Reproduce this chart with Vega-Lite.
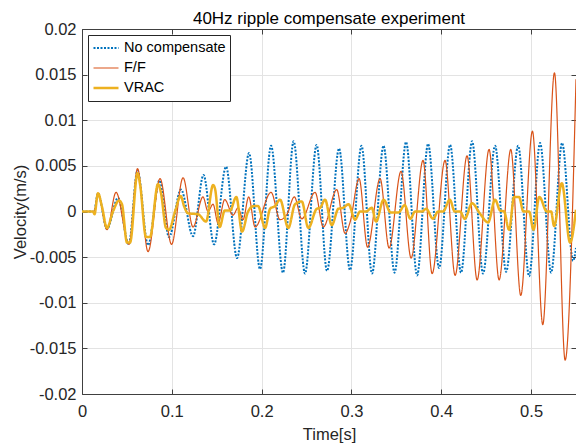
{
"$schema": "https://vega.github.io/schema/vega-lite/v6.json",
"width": 494, "height": 365,
"autosize": {"type": "none"},
"padding": {"left": 82, "top": 29, "right": 0, "bottom": 50},
"background": "white",
"title": {"text": "40Hz ripple compensate experiment", "fontSize": 17, "font": "Liberation Sans", "fontWeight": "normal", "color": "#000000", "baseline": "alphabetic", "offset": -20, "anchor": "middle", "frame": "group"},
"config": {
  "view": {"stroke": "#404040", "strokeWidth": 1},
  "font": "Liberation Sans",
  "axis": {"domainColor": "#404040", "tickColor": "#404040", "labelColor": "#262626", "titleColor": "#262626", "labelFont": "Liberation Sans", "titleFont": "Liberation Sans", "labelFontSize": 16.5, "titleFontSize": 16.5, "titleFontWeight": "normal", "gridColor": "#e3e3e3", "tickSize": -5, "labelFlush": false, "labelOverlap": false}
},
"datasets": {
"main": [
{"series":"No compensate","t":0,"v":0},{"series":"No compensate","t":0.0134,"v":0},{"series":"No compensate","t":0.0178,"v":0.002},{"series":"No compensate","t":0.0278,"v":-0.0019},{"series":"No compensate","t":0.0401,"v":0.0015},{"series":"No compensate","t":0.052,"v":-0.0036},{"series":"No compensate","t":0.0618,"v":0.0045},{"series":"No compensate","t":0.0735,"v":-0.0037},{"series":"No compensate","t":0.0863,"v":0.0034},{"series":"No compensate","t":0.0969,"v":-0.0028},{"series":"No compensate","t":0.1102,"v":0.0024},{"series":"No compensate","t":0.1236,"v":-0.0027},{"series":"No compensate","t":0.1353,"v":0.004},{"series":"No compensate","t":0.147,"v":-0.0036},{"series":"No compensate","t":0.1604,"v":0.0049},{"series":"No compensate","t":0.1726,"v":-0.0051},{"series":"No compensate","t":0.186,"v":0.0064},{"series":"No compensate","t":0.1982,"v":-0.0063},{"series":"No compensate","t":0.2105,"v":0.0072},{"series":"No compensate","t":0.2238,"v":-0.0067},{"series":"No compensate","t":0.2356,"v":0.0077},{"series":"No compensate","t":0.2483,"v":-0.0068},{"series":"No compensate","t":0.2612,"v":0.0073},{"series":"No compensate","t":0.2728,"v":-0.0065},{"series":"No compensate","t":0.2862,"v":0.0069},{"series":"No compensate","t":0.2984,"v":-0.0064},{"series":"No compensate","t":0.3112,"v":0.0072},{"series":"No compensate","t":0.3229,"v":-0.0068},{"series":"No compensate","t":0.3357,"v":0.0072},{"series":"No compensate","t":0.348,"v":-0.0067},{"series":"No compensate","t":0.3608,"v":0.0076},{"series":"No compensate","t":0.3731,"v":-0.007},{"series":"No compensate","t":0.3853,"v":0.0074},{"series":"No compensate","t":0.3976,"v":-0.0062},{"series":"No compensate","t":0.4098,"v":0.0073},{"series":"No compensate","t":0.422,"v":-0.0067},{"series":"No compensate","t":0.4343,"v":0.0077},{"series":"No compensate","t":0.4465,"v":-0.0068},{"series":"No compensate","t":0.4599,"v":0.0072},{"series":"No compensate","t":0.4722,"v":-0.0066},{"series":"No compensate","t":0.4856,"v":0.0072},{"series":"No compensate","t":0.4978,"v":-0.0071},{"series":"No compensate","t":0.51,"v":0.0075},{"series":"No compensate","t":0.5223,"v":-0.0067},{"series":"No compensate","t":0.5345,"v":0.0075},{"series":"No compensate","t":0.5468,"v":-0.0054},{"series":"No compensate","t":0.55,"v":-0.004},
{"series":"F/F","t":0,"v":0},{"series":"F/F","t":0.0134,"v":0},{"series":"F/F","t":0.0178,"v":0.002},{"series":"F/F","t":0.0278,"v":-0.002},{"series":"F/F","t":0.0379,"v":0.0021},{"series":"F/F","t":0.0523,"v":-0.0036},{"series":"F/F","t":0.0618,"v":0.0047},{"series":"F/F","t":0.0735,"v":-0.0044},{"series":"F/F","t":0.0869,"v":0.0036},{"series":"F/F","t":0.0997,"v":-0.0036},{"series":"F/F","t":0.1125,"v":0.0037},{"series":"F/F","t":0.1236,"v":-0.0017},{"series":"F/F","t":0.1347,"v":0.0016},{"series":"F/F","t":0.1403,"v":0},{"series":"F/F","t":0.1459,"v":0.0008},{"series":"F/F","t":0.1515,"v":-0.0013},{"series":"F/F","t":0.1589,"v":0.0013},{"series":"F/F","t":0.1682,"v":-0.0004},{"series":"F/F","t":0.1737,"v":0.0004},{"series":"F/F","t":0.1793,"v":-0.0009},{"series":"F/F","t":0.1856,"v":0.0016},{"series":"F/F","t":0.1927,"v":-0.0017},{"series":"F/F","t":0.2105,"v":0.0021},{"series":"F/F","t":0.2205,"v":-0.0009},{"series":"F/F","t":0.2283,"v":-0.0003},{"series":"F/F","t":0.2364,"v":0.0016},{"series":"F/F","t":0.2447,"v":-0.0008},{"series":"F/F","t":0.2595,"v":0.0021},{"series":"F/F","t":0.2687,"v":-0.0017},{"series":"F/F","t":0.2836,"v":0.0024},{"series":"F/F","t":0.2929,"v":-0.0024},{"series":"F/F","t":0.2984,"v":-0.0012},{"series":"F/F","t":0.3085,"v":0.0036},{"series":"F/F","t":0.3179,"v":-0.0039},{"series":"F/F","t":0.3319,"v":0.0036},{"series":"F/F","t":0.3419,"v":-0.004},{"series":"F/F","t":0.3552,"v":0.0044},{"series":"F/F","t":0.3664,"v":-0.0051},{"series":"F/F","t":0.3797,"v":0.0056},{"series":"F/F","t":0.3898,"v":-0.0068},{"series":"F/F","t":0.4042,"v":0.0056},{"series":"F/F","t":0.4154,"v":-0.007},{"series":"F/F","t":0.4287,"v":0.0061},{"series":"F/F","t":0.4399,"v":-0.0075},{"series":"F/F","t":0.4532,"v":0.0068},{"series":"F/F","t":0.4644,"v":-0.0075},{"series":"F/F","t":0.4774,"v":0.0068},{"series":"F/F","t":0.4885,"v":-0.0092},{"series":"F/F","t":0.5015,"v":0.0088},{"series":"F/F","t":0.513,"v":-0.0124},{"series":"F/F","t":0.526,"v":0.0152},{"series":"F/F","t":0.5379,"v":-0.0163},{"series":"F/F","t":0.55,"v":0.0145},
{"series":"VRAC","t":0,"v":0},{"series":"VRAC","t":0.0123,"v":0},{"series":"VRAC","t":0.0139,"v":-0.0003},{"series":"VRAC","t":0.0178,"v":0.002},{"series":"VRAC","t":0.0223,"v":0.0005},{"series":"VRAC","t":0.0278,"v":-0.0018},{"series":"VRAC","t":0.0345,"v":0},{"series":"VRAC","t":0.0412,"v":0.0012},{"series":"VRAC","t":0.0445,"v":0.0008},{"series":"VRAC","t":0.0501,"v":-0.0034},{"series":"VRAC","t":0.0535,"v":-0.0034},{"series":"VRAC","t":0.0618,"v":0.0042},{"series":"VRAC","t":0.0646,"v":0.003},{"series":"VRAC","t":0.0713,"v":-0.0028},{"series":"VRAC","t":0.0757,"v":-0.0028},{"series":"VRAC","t":0.0846,"v":0.003},{"series":"VRAC","t":0.088,"v":0.002},{"series":"VRAC","t":0.0935,"v":-0.0018},{"series":"VRAC","t":0.0969,"v":-0.002},{"series":"VRAC","t":0.1036,"v":0},{"series":"VRAC","t":0.1099,"v":0.0017},{"series":"VRAC","t":0.1136,"v":0.0006},{"series":"VRAC","t":0.118,"v":-0.0002},{"series":"VRAC","t":0.1292,"v":-0.0003},{"series":"VRAC","t":0.1381,"v":-0.0011},{"series":"VRAC","t":0.1459,"v":0.0029},{"series":"VRAC","t":0.1481,"v":0.0025},{"series":"VRAC","t":0.1533,"v":-0.0017},{"series":"VRAC","t":0.1589,"v":0.0001},{"series":"VRAC","t":0.1648,"v":0.0001},{"series":"VRAC","t":0.1718,"v":0.0016},{"series":"VRAC","t":0.1782,"v":-0.0022},{"series":"VRAC","t":0.1849,"v":0},{"series":"VRAC","t":0.1915,"v":0.0006},{"series":"VRAC","t":0.196,"v":0.0006},{"series":"VRAC","t":0.2038,"v":-0.0018},{"series":"VRAC","t":0.2094,"v":0.0003},{"series":"VRAC","t":0.2149,"v":0.0006},{"series":"VRAC","t":0.2205,"v":0.0013},{"series":"VRAC","t":0.2297,"v":-0.0018},{"series":"VRAC","t":0.2372,"v":0.0008},{"series":"VRAC","t":0.2447,"v":0.0011},{"series":"VRAC","t":0.252,"v":-0.0018},{"series":"VRAC","t":0.2614,"v":0.0003},{"series":"VRAC","t":0.265,"v":0.0004},{"series":"VRAC","t":0.2706,"v":0.0013},{"series":"VRAC","t":0.2781,"v":-0.0015},{"series":"VRAC","t":0.2854,"v":0.0003},{"series":"VRAC","t":0.2907,"v":0.0004},{"series":"VRAC","t":0.2968,"v":0.0008},{"series":"VRAC","t":0.304,"v":-0.0009},{"series":"VRAC","t":0.3096,"v":0},{"series":"VRAC","t":0.3163,"v":0},{"series":"VRAC","t":0.3226,"v":0.0004},{"series":"VRAC","t":0.3274,"v":-0.0011},{"series":"VRAC","t":0.3358,"v":0.0013},{"series":"VRAC","t":0.3435,"v":-0.0001},{"series":"VRAC","t":0.3524,"v":-0.0001},{"series":"VRAC","t":0.3593,"v":0.0007},{"series":"VRAC","t":0.3656,"v":-0.0008},{"series":"VRAC","t":0.3708,"v":0},{"series":"VRAC","t":0.3786,"v":0},{"series":"VRAC","t":0.3831,"v":0.0003},{"series":"VRAC","t":0.3909,"v":-0.0008},{"series":"VRAC","t":0.3964,"v":0},{"series":"VRAC","t":0.402,"v":0},{"series":"VRAC","t":0.4095,"v":0.0013},{"series":"VRAC","t":0.415,"v":0},{"series":"VRAC","t":0.4209,"v":0},{"series":"VRAC","t":0.4262,"v":-0.0008},{"series":"VRAC","t":0.4343,"v":0.0009},{"series":"VRAC","t":0.4429,"v":-0.0002},{"series":"VRAC","t":0.4521,"v":-0.0012},{"series":"VRAC","t":0.4599,"v":0.0013},{"series":"VRAC","t":0.4655,"v":0.0001},{"series":"VRAC","t":0.4699,"v":0},{"series":"VRAC","t":0.4755,"v":-0.002},{"series":"VRAC","t":0.4811,"v":0.0016},{"series":"VRAC","t":0.4866,"v":0.0016},{"series":"VRAC","t":0.4914,"v":0},{"series":"VRAC","t":0.4978,"v":0},{"series":"VRAC","t":0.5026,"v":-0.002},{"series":"VRAC","t":0.5092,"v":0.0016},{"series":"VRAC","t":0.5175,"v":0},{"series":"VRAC","t":0.5223,"v":0},{"series":"VRAC","t":0.5256,"v":-0.0016},{"series":"VRAC","t":0.5342,"v":0.0031},{"series":"VRAC","t":0.5434,"v":-0.0034},{"series":"VRAC","t":0.55,"v":0.0002}
],
"dummy": [{"t": 0, "v": 0}]
},
"layer": [
  {
    "data": {"name": "main"},
    "mark": {"type": "line", "interpolate": "monotone", "clip": true},
    "encoding": {
      "x": {"field": "t", "type": "quantitative", "scale": {"domain": [0, 0.55], "nice": false, "zero": false},
            "axis": {"orient": "bottom", "title": "Time[s]", "values": [0, 0.1, 0.2, 0.3, 0.4, 0.5], "format": "~g", "labelPadding": 14, "titleY": 45, "titleBaseline": "alphabetic"}},
      "y": {"field": "v", "type": "quantitative", "scale": {"domain": [-0.02, 0.02], "nice": false},
            "axis": {"orient": "left", "title": "Velocity(m/s)", "values": [-0.02, -0.015, -0.01, -0.005, 0, 0.005, 0.01, 0.015, 0.02], "format": "~g", "labelExpr": "replace(datum.label, '−', '-')", "labelPadding": 11, "titleX": -57, "titleY": 182.5, "titleBaseline": "alphabetic"}},
      "color": {"field": "series", "type": "nominal", "scale": {"domain": ["No compensate", "F/F", "VRAC"], "range": ["#0072BD", "#D95319", "#EDB120"]},
                "legend": {"title": null, "orient": "none", "legendX": 6, "legendY": 6, "padding": 4, "strokeColor": "#262626", "fillColor": "#ffffff", "labelFontSize": 14.5, "labelFont": "Liberation Sans", "labelColor": "#000000", "symbolSize": 625, "labelOffset": 4, "rowPadding": 2, "clipHeight": 18}},
      "strokeDash": {"field": "series", "type": "nominal", "scale": {"domain": ["No compensate", "F/F", "VRAC"], "range": [[2, 1.5], [1, 0], [1, 0]]},
                "legend": {"title": null, "orient": "none", "legendX": 6, "legendY": 6, "padding": 4, "strokeColor": "#262626", "fillColor": "#ffffff", "labelFontSize": 14.5, "labelFont": "Liberation Sans", "labelColor": "#000000", "symbolSize": 625, "labelOffset": 4, "rowPadding": 2, "clipHeight": 18}},
      "strokeWidth": {"field": "series", "type": "nominal", "scale": {"type": "ordinal", "domain": ["No compensate", "F/F", "VRAC"], "range": [2, 1.2, 2.5]},
                "legend": {"title": null, "orient": "none", "legendX": 6, "legendY": 6, "padding": 4, "strokeColor": "#262626", "fillColor": "#ffffff", "labelFontSize": 14.5, "labelFont": "Liberation Sans", "labelColor": "#000000", "symbolSize": 625, "labelOffset": 4, "rowPadding": 2, "clipHeight": 18}}
    }
  },
  {
    "data": {"name": "dummy"},
    "mark": {"type": "point", "opacity": 0},
    "encoding": {
      "x": {"field": "t", "type": "quantitative", "axis": {"orient": "top", "title": null, "labels": false, "grid": false, "minExtent": 0, "maxExtent": 0, "values": [0, 0.1, 0.2, 0.3, 0.4, 0.5]}},
      "y": {"field": "v", "type": "quantitative", "axis": {"orient": "right", "title": null, "labels": false, "grid": false, "minExtent": 0, "maxExtent": 0, "values": [-0.02, -0.015, -0.01, -0.005, 0, 0.005, 0.01, 0.015, 0.02]}}
    }
  }
]
}
